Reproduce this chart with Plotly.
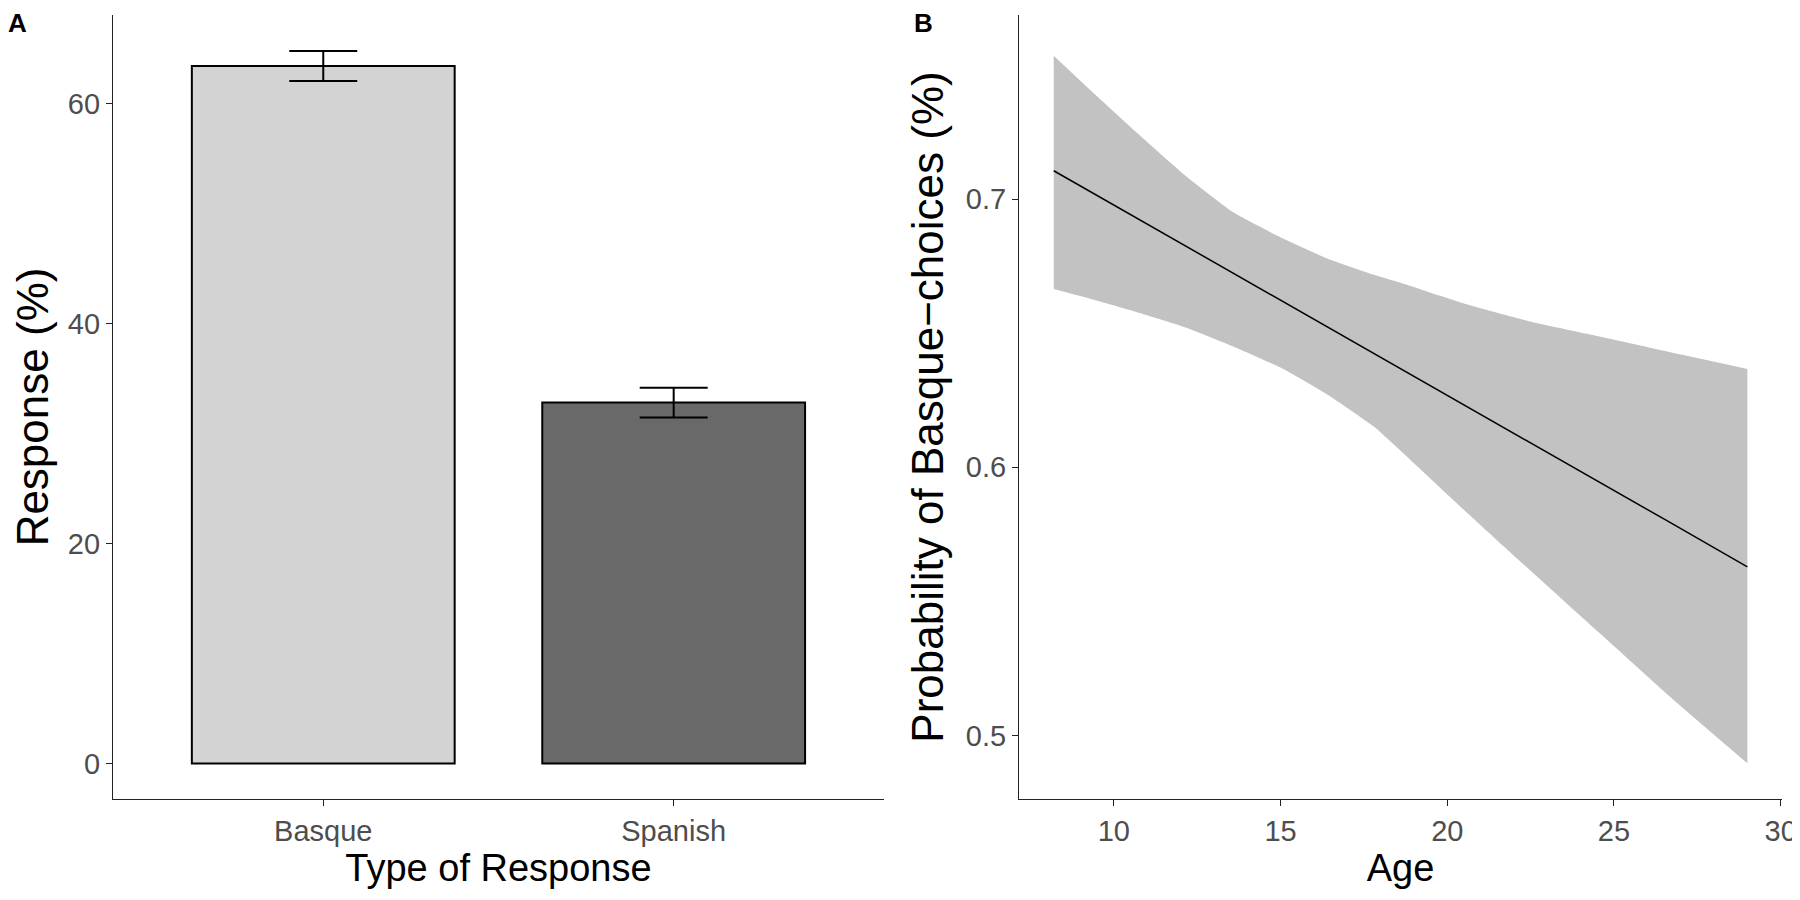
import plotly.graph_objects as go

# ---- Panel A data ----
categories = ["Basque", "Spanish"]
response_pct = [63.4, 32.8]
response_se = [1.36, 1.36]
bar_colors = ["#D3D3D3", "#696969"]

# ---- Panel B data ----
ages = [8.2, 9.4, 10.8, 12.2, 13.6, 15.0, 16.4, 17.8, 18.6, 20.6, 22.6, 24.6, 26.6, 29.0]
fit = [0.7106, 0.7021, 0.6921, 0.6822, 0.6723, 0.6623, 0.6524, 0.6424, 0.6368,
       0.6226, 0.6084, 0.5942, 0.5800, 0.5629]
upper = [0.7535, 0.7395, 0.7236, 0.7083, 0.6950, 0.6858, 0.6779, 0.6718, 0.6688,
         0.6607, 0.6540, 0.6487, 0.6432, 0.6367]
lower = [0.6665, 0.6625, 0.6575, 0.6520, 0.6450, 0.6372, 0.6272, 0.6152, 0.6062,
         0.5830, 0.5603, 0.5378, 0.5153, 0.4896]

FONT = "Liberation Sans, Arial, Helvetica, sans-serif"
TICK_COLOR = "#4D4D4D"
LINE_COLOR = "#222222"

fig = go.Figure()

fig.add_trace(go.Bar(
    x=categories, y=response_pct, width=0.75,
    marker=dict(color=bar_colors, line=dict(color="black", width=2)),
    error_y=dict(type="data", array=response_se, color="black", thickness=2, width=34),
    xaxis="x", yaxis="y", showlegend=False,
))

fig.add_trace(go.Scatter(
    x=ages, y=lower, mode="lines", line=dict(width=0, shape="spline", smoothing=0.5),
    hoverinfo="skip", xaxis="x2", yaxis="y2", showlegend=False,
))
fig.add_trace(go.Scatter(
    x=ages, y=upper, mode="lines", line=dict(width=0, shape="spline", smoothing=0.5),
    fill="tonexty", fillcolor="#C2C2C2",
    hoverinfo="skip", xaxis="x2", yaxis="y2", showlegend=False,
))
fig.add_trace(go.Scatter(
    x=ages, y=fit, mode="lines", line=dict(color="black", width=1.5),
    xaxis="x2", yaxis="y2", showlegend=False,
))

axis_common = dict(
    showline=True, linecolor=LINE_COLOR, linewidth=1.3,
    ticks="outside", ticklen=6, tickwidth=1.3, tickcolor=LINE_COLOR,
    showgrid=False, zeroline=False, automargin=False,
    tickfont=dict(family=FONT, size=29, color=TICK_COLOR),
)

fig.update_layout(
    width=1792, height=892,
    margin=dict(l=0, r=0, t=0, b=0),
    paper_bgcolor="white", plot_bgcolor="white",
    font=dict(family=FONT),
    xaxis=dict(domain=[0.0586, 0.4888], range=[-0.6, 1.6], type="category",
               title=dict(text="Type of Response", font=dict(family=FONT, size=38, color="black"), standoff=6),
               anchor="y", **axis_common),
    yaxis=dict(domain=[0.1132, 0.9922], range=[-3.24, 68.04], tickvals=[0, 20, 40, 60],
               title=dict(text="Response (%)", font=dict(family=FONT, size=44, color="black"), standoff=8),
               anchor="x", **axis_common),
    xaxis2=dict(domain=[0.5642, 0.99], range=[7.16, 30.04], tickvals=[10, 15, 20, 25, 30],
                title=dict(text="Age", font=dict(family=FONT, size=38, color="black"), standoff=6),
                anchor="y2", **axis_common),
    yaxis2=dict(domain=[0.1132, 0.9922], range=[0.4763, 0.7687], tickvals=[0.5, 0.6, 0.7],
                title=dict(text="Probability of Basque\u2212choices (%)", font=dict(family=FONT, size=44, color="black"), standoff=8),
                anchor="x2", **axis_common),
    annotations=[
        dict(text="<b>A</b>", x=0.0, y=1.0, xref="paper", yref="paper", xanchor="left", yanchor="top",
             showarrow=False, font=dict(family=FONT, size=26, color="black"), xshift=-2, yshift=2),
        dict(text="<b>B</b>", x=0.5045, y=1.0, xref="paper", yref="paper", xanchor="left", yanchor="top",
             showarrow=False, font=dict(family=FONT, size=26, color="black"), xshift=0, yshift=2),
    ],
)

fig.write_html("out.html")
